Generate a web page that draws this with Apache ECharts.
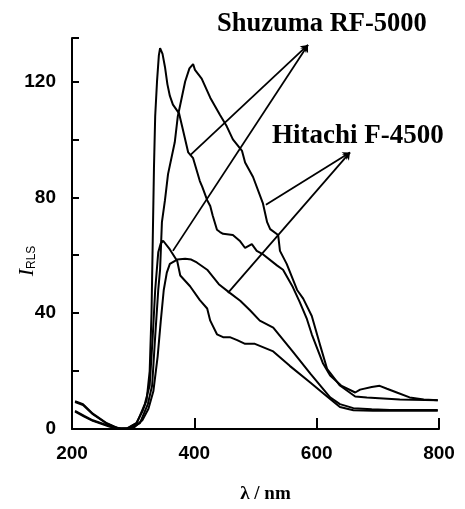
<!DOCTYPE html>
<html>
<head>
<meta charset="utf-8">
<script src="https://cdn.jsdelivr.net/npm/echarts@6/dist/echarts.min.js"></script>
<style>html,body{margin:0;padding:0;background:#fff;}#c{width:465px;height:509px;}</style>
</head>
<body>
<div id="c"></div>
<script>
// Shuzuma RF-5000, curve 1 (tall peak ~340 nm)
var wlA  = [205,218,234,257,275,290,305,315,322,327,330,332,334,336,339,342,344,348,352,356,360,365,375,380,390,398,409,413,421,426,430,437,442,447,463,475,483,494,502,511,535,545,561,572,584,592,610,622,640,663,671,690,703,715,731,752,775,798];
var intA = [9.6,8.6,5.3,2,0.3,0.2,2,6,10,20,40,65,90,108,120,129,131.5,129.5,125,119,115,112,109,104.5,95.5,93.5,85.6,83.6,79,77,73.7,68.8,68,67.4,67,64.8,62.5,63.8,61.5,60.5,56.5,55,49,44,38,32.7,22.8,18.5,15,12.6,13.6,14.5,14.9,13.9,12.6,10.9,10.2,9.9];
// Hitachi F-4500, curve 1 (tall peak ~390 nm)
var wlB  = [205,218,234,257,275,295,311,324,331,336,341,344,347,352,357,368,373,380,385,392,398,401,412,426,442,453,463,478,483,496,512,519,524,537,540,551,568,578,592,605,617,638,663,682,736,798];
var intB = [9.3,8.3,5.1,1.8,0.2,0.2,2,8.6,15,32,48,55,71.4,79,88,99,108,115,120,124.5,126,124,121,114.4,108.4,104.5,100,96,92,87,78,71.4,69,67,61.5,57,48,45,39,29.4,20.8,15,11.2,10.9,10.2,9.9];
// Shuzuma RF-5000, curve 2 (low peak ~345 nm)
var wlC  = [205,220,234,262,280,291,306,319,327,332,336,341,345,349,352,360,372,377,393,409,421,426,437,447,458,470,483,499,529,556,590,617,638,660,692,798];
var intC = [6.3,4.5,3,1,0.2,0.2,2,8.6,15,32,48,61,64,65,65.5,62,58,53,49.3,44.5,41.6,37.4,32.7,31.7,31.7,30.7,29.4,29.4,26.8,21.8,16,11.2,7.6,6.5,6.3,6.3];
// Hitachi F-4500, curve 2 (low peak ~390 nm)
var wlD  = [205,220,234,262,280,300,315,325,333,340,345,350,355,360,372,385,395,404,421,440,458,475,491,507,529,560,590,622,638,660,690,720,798];
var intD = [6.0,4.3,2.8,0.8,0,0.3,3,7,13,25,37,48,54,57,58.5,58.8,58.5,57.5,55,50,47,44.3,41,37.4,35,27,19,10.9,8.6,7.2,6.8,6.6,6.6];

// leader lines: [from λ, from I, to λ, to I]
var shuzumaLeaders = [[392.9,94.5,585.8,132.6],[365,61.5,585.8,132.6]];
var hitachiLeaders = [[517,77.4,654.5,95.5],[455,47,654.5,95.5]];
var xTicks = [200,400,600,800];
var yLabelTicks = [0,40,80,120];

function pairs(x, y){ return x.map(function(v,i){ return [v, y[i]]; }); }
function leaderData(arr){ return arr.map(function(l){ return [{coord:[l[0],l[1]]},{coord:[l[2],l[3]]}]; }); }

var tickFont = {color:'#000', fontSize:19, fontWeight:'bold', fontFamily:'Liberation Sans'};
var lineStyle = {color:'#000', width:2};

var chart = echarts.init(document.getElementById('c'), null, {renderer:'canvas'});
chart.setOption({
  animation:false,
  backgroundColor:'#fff',
  grid:{left:72, right:26, top:38, bottom:63},
  xAxis:{
    type:'value', min:200, max:800, interval:200,
    axisLine:{lineStyle:{color:'#000', width:2}},
    axisTick:{inside:true, length:11, lineStyle:{color:'#000', width:2}},
    splitLine:{show:false},
    axisLabel:Object.assign({margin:15, formatter:function(v){return xTicks.indexOf(v)>=0? String(v):'';}}, tickFont),
    name:'λ / nm', nameLocation:'middle', nameGap:56,
    nameTextStyle:{color:'#000', fontSize:19, fontFamily:'Liberation Serif', fontWeight:'bold', padding:[0,0,0,20]}
  },
  yAxis:{
    type:'value', min:0, max:135, interval:20,
    axisLine:{show:true, lineStyle:{color:'#000', width:2}},
    axisTick:{show:true, inside:true, length:7, lineStyle:{color:'#000', width:2}},
    splitLine:{show:false},
    axisLabel:Object.assign({margin:16, formatter:function(v){return yLabelTicks.indexOf(v)>=0? String(v):'';}}, tickFont)
  },
  graphic:[
    {type:'text', x:26, y:261, rotation:Math.PI/2,
     style:{text:'{i|I}{s|RLS}', align:'center', verticalAlign:'middle',
       rich:{i:{fontSize:22, fontStyle:'italic', fontFamily:'Liberation Serif', fill:'#000', verticalAlign:'bottom', lineHeight:24},
             s:{fontSize:12, fontFamily:'Liberation Sans', fill:'#000', verticalAlign:'bottom', lineHeight:24}}}},
    {type:'text', left:217, top:11, style:{text:'Shuzuma RF-5000', fontSize:26.5, fontWeight:'bold', fontFamily:'Liberation Serif', fill:'#000'}},
    {type:'text', left:272, top:123, style:{text:'Hitachi F-4500', fontSize:27, fontWeight:'bold', fontFamily:'Liberation Serif', fill:'#000'}}
  ],
  series:[
    {type:'line', data:pairs(wlA,intA), showSymbol:false, lineStyle:lineStyle, silent:true},
    {type:'line', data:pairs(wlB,intB), showSymbol:false, lineStyle:lineStyle, silent:true},
    {type:'line', data:pairs(wlC,intC), showSymbol:false, lineStyle:lineStyle, silent:true},
    {type:'line', data:pairs(wlD,intD), showSymbol:false, lineStyle:lineStyle, silent:true},
    {type:'line', data:[], silent:true,
     markLine:{silent:true, symbol:['none','arrow'], symbolSize:7, label:{show:false},
       lineStyle:{color:'#000', width:1.8, type:'solid'}, emphasis:{disabled:true},
       data:leaderData(shuzumaLeaders).concat(leaderData(hitachiLeaders))}}
  ]
});
</script>
</body>
</html>
